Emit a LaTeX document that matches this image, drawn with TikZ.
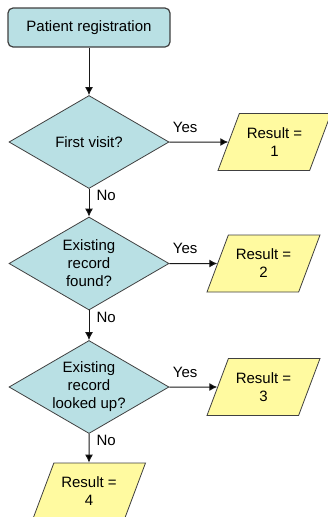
\documentclass[tikz,border=0pt]{standalone}
\usepackage{fontspec}
\setmainfont{Liberation Sans}
\usetikzlibrary{arrows.meta}
\usetikzlibrary{shapes.geometric}
\usepackage{xcolor}
\definecolor{tealfill}{RGB}{185,224,228}
\definecolor{resultfill}{RGB}{255,250,160}
\newcommand{\resultis}[1]{Result =\\#1}

\begin{document}
\begin{tikzpicture}[x=1pt,y=-1pt]
\tikzstyle{every node}=[font=\fontsize{15}{18}\selectfont]
\tikzstyle{startbox}=[draw=black!75,line width=1.2pt,rounded corners=5pt,fill=tealfill,minimum width=162pt,minimum height=39pt]
\tikzstyle{question}=[draw=black!75,line width=0.8pt,fill=tealfill,diamond,aspect=1.72,minimum width=160pt,minimum height=93pt,inner sep=0pt,align=center]
\tikzstyle{result}=[draw=black!75,line width=0.8pt,fill=resultfill,trapezium,trapezium left angle=68,trapezium right angle=112,trapezium stretches body=true,minimum width=113pt,minimum height=57pt,inner xsep=0pt,inner ysep=12pt,align=center]
\tikzstyle{yeslabel}=[pos=0,anchor=south west,inner sep=0pt,xshift=3pt,yshift=9pt]
\tikzstyle{nolabel}=[pos=0,anchor=north west,inner sep=0pt,xshift=7pt,yshift=-1pt]
\useasboundingbox (0,0) rectangle (327,517);
\node[startbox] (reg) at (89,27.5) {Patient registration};
\node[question] (q1) at (89,142) {First visit?};
\node[question] (q2) at (89,263.5) {Existing\\record\\found?};
\node[question] (q3) at (89,387) {Existing\\record\\looked up?};
\node[result] (r1) at (274.5,142) {\resultis{1}};
\node[result] (r2) at (263.5,263.5) {\resultis{2}};
\node[result] (r3) at (263.5,387) {\resultis{3}};
\node[result] (r4) at (89,491.5) {\resultis{4}};
\path[arrows={-Latex[length=8pt,width=8pt]},draw=black!90,line width=1pt] (reg) edge (q1)
  (q1) edge node[yeslabel] {Yes} (r1)
  (q1) edge node[nolabel] {No} (q2)
  (q2) edge node[yeslabel] {Yes} (r2)
  (q2) edge node[nolabel] {No} (q3)
  (q3) edge node[yeslabel] {Yes} (r3)
  (q3) edge node[nolabel] {No} (r4);
\end{tikzpicture}
\end{document}
